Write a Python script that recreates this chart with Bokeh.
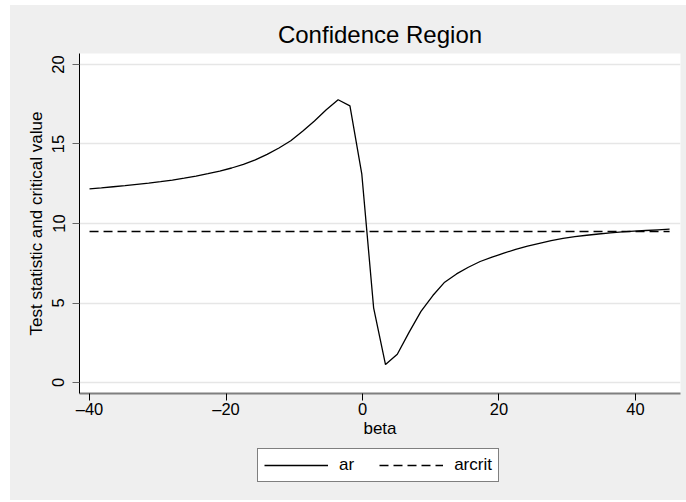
from bokeh.plotting import figure
from bokeh.models import Range1d, FixedTicker, Legend, LegendItem, Spacer
from bokeh.layouts import column, row
from bokeh.embed import file_html
from bokeh.resources import INLINE

beta = [-40.00, -38.27, -36.53, -34.80, -33.06, -31.33, -29.59, -27.86, -26.12, -24.39,
        -22.65, -20.92, -19.18, -17.45, -15.71, -13.98, -12.24, -10.51, -8.78, -7.04,
        -5.31, -3.57, -1.84, -0.10, 1.63, 3.37, 5.10, 6.84, 8.57, 10.31,
        12.04, 13.78, 15.51, 17.24, 18.98, 20.71, 22.45, 24.18, 25.92, 27.65,
        29.39, 31.12, 32.86, 34.59, 36.33, 38.06, 39.80, 41.53, 43.27, 45.00]
ar = [12.18, 12.24, 12.31, 12.38, 12.46, 12.54, 12.63, 12.73, 12.85, 12.98,
      13.13, 13.30, 13.49, 13.72, 14.00, 14.35, 14.75, 15.20, 15.80, 16.45,
      17.15, 17.78, 17.40, 13.10, 4.70, 1.13, 1.78, 3.17, 4.47, 5.47,
      6.31, 6.83, 7.25, 7.61, 7.88, 8.13, 8.38, 8.58, 8.75, 8.92,
      9.06, 9.17, 9.26, 9.34, 9.41, 9.47, 9.52, 9.56, 9.60, 9.64]
arcrit = [9.49] * len(beta)

x_ticks = [-40, -20, 0, 20, 40]
x_tick_labels = {-40: "\u201340", -20: "\u201320", 0: "0", 20: "20", 40: "40"}
y_ticks = [0, 5, 10, 15, 20]
series_labels = ["ar", "arcrit"]

FONT = "Liberation Sans"
BG = "#EFEFEF"

p = figure(width=676, height=440, output_backend="svg", toolbar_location=None,
           x_range=Range1d(-41.47, 46.6), y_range=Range1d(-0.69, 20.69),
           title="Confidence Region",
           min_border_left=69, min_border_right=6, min_border_top=48, min_border_bottom=52)

p.background_fill_color = "white"
p.border_fill_color = BG
p.outline_line_color = None

p.title.align = "center"
p.title.text_font = FONT
p.title.text_font_size = "24px"
p.title.text_font_style = "normal"
p.title.text_color = "black"
p.title.standoff = 12

# grid
p.xgrid.grid_line_color = None
p.ygrid.ticker = FixedTicker(ticks=y_ticks)
p.ygrid.grid_line_color = "#E6E6E6"
p.ygrid.grid_line_width = 1.5

# x axis
xa = p.xaxis[0]
xa.ticker = FixedTicker(ticks=x_ticks)
xa.major_label_overrides = x_tick_labels
xa.axis_label = "beta"
xa.axis_line_color = "#7F7F7F"
xa.axis_line_width = 2
xa.major_tick_line_color = "black"
xa.major_tick_in = 0
xa.major_tick_out = 7
xa.minor_tick_line_color = None
xa.major_label_standoff = -1
xa.axis_label_standoff = -2
xa.major_label_text_font = FONT
xa.major_label_text_font_size = "16.5px"
xa.major_label_text_color = "black"
xa.axis_label_text_font = FONT
xa.axis_label_text_font_size = "17px"
xa.axis_label_text_font_style = "normal"
xa.axis_label_text_color = "black"

# y axis
ya = p.yaxis[0]
ya.ticker = FixedTicker(ticks=y_ticks)
ya.axis_label = "Test statistic and critical value"
ya.axis_line_color = "black"
ya.axis_line_width = 1
ya.major_tick_line_color = "#666666"
ya.major_tick_in = 0
ya.major_tick_out = 7
ya.minor_tick_line_color = None
ya.major_label_orientation = "vertical"
ya.major_label_standoff = 8
ya.axis_label_standoff = 4
ya.major_label_text_font = FONT
ya.major_label_text_font_size = "16.5px"
ya.major_label_text_color = "black"
ya.axis_label_text_font = FONT
ya.axis_label_text_font_size = "17px"
ya.axis_label_text_font_style = "normal"
ya.axis_label_text_color = "black"

p.line(beta, ar, line_color="black", line_width=1.3)
p.line(beta, arcrit, line_color="black", line_width=1.5, line_dash="9 5")

# legend strip below the axis (separate panel so it is not clipped);
# its ranges keep the copies of the lines out of view, only the legend shows
pl = figure(width=676, height=55, output_backend="svg", toolbar_location=None,
            x_axis_type=None, y_axis_type=None, min_border=0,
            x_range=Range1d(1000, 1001), y_range=Range1d(1000, 1001))
pl.background_fill_color = BG
pl.border_fill_color = BG
pl.outline_line_color = None
pl.xgrid.grid_line_color = None
pl.ygrid.grid_line_color = None
l_ar = pl.line(beta, ar, line_color="black", line_width=1.3)
l_crit = pl.line(beta, arcrit, line_color="black", line_width=1.5, line_dash="9 5")

legend = Legend(items=[LegendItem(label=series_labels[0], renderers=[l_ar]),
                       LegendItem(label=series_labels[1], renderers=[l_crit])],
                orientation="horizontal", location=(178, 18))
legend.label_text_font = FONT
legend.label_text_font_size = "17px"
legend.label_text_color = "black"
legend.glyph_width = 64
legend.glyph_height = 20
legend.label_width = 10
legend.label_height = 20
legend.label_standoff = 11
legend.spacing = 25
legend.padding = 6
legend.margin = 0
legend.border_line_color = "black"
legend.border_line_width = 1
legend.background_fill_color = "white"
legend.background_fill_alpha = 1.0
pl.add_layout(legend, "center")

inner = column(p, pl, styles={"background-color": BG})
layout = column(Spacer(height=5), row(Spacer(width=10), inner))
open("out.html", "w").write(file_html(layout, INLINE))
